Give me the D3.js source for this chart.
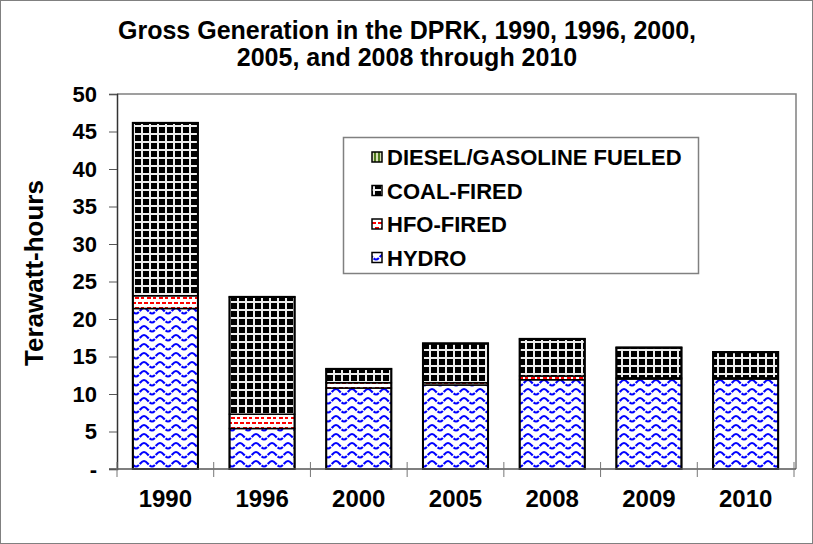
<!DOCTYPE html>
<html><head><meta charset="utf-8">
<script src="https://cdn.jsdelivr.net/npm/d3@7"></script>
<style>
html,body{margin:0;padding:0;background:#fff;}
svg{display:block;font-family:"Liberation Sans",Arial,sans-serif;font-weight:bold;}
</style></head>
<body><svg id="chart" width="813" height="544"></svg>
<script>
const categories = ['1990','1996','2000','2005','2008','2009','2010'];
const hydro  = [21.4, 5.4, 10.8, 11.2, 11.9, 12.0, 12.0];
const hfo    = [1.7, 1.9, 0.7, 0.3, 0.5, 0.15, 0.15];
const coal   = [23.0, 15.6, 1.8, 5.2, 4.9, 4.0, 3.4];
const diesel = [0.05, 0.05, 0.05, 0.05, 0.05, 0.05, 0.05];
const seriesNames = ['HYDRO','HFO-FIRED','COAL-FIRED','DIESEL/GASOLINE FUELED'];
const yTicks = [0,5,10,15,20,25,30,35,40,45,50];
const titleLines = ['Gross Generation in the DPRK, 1990, 1996, 2000,','2005, and 2008 through 2010'];
const yTitle = 'Terawatt-hours';

const svg = d3.select('#chart');
const W = 813, H = 544;
const plot = {left:117, right:794, top:94, bottom:469};

svg.append('rect').attr('x',0.5).attr('y',0.5).attr('width',W-1).attr('height',H-1)
  .attr('fill','#fff').attr('stroke','#808080').attr('stroke-width',1);

const defs = svg.append('defs');
const pH = defs.append('pattern').attr('id','p-hydro').attr('patternUnits','userSpaceOnUse')
  .attr('width',16).attr('height',9);
pH.append('rect').attr('width',16).attr('height',9).attr('fill','#fff');
pH.append('path').attr('d','M0,2 C3,2 5,7.5 8,7.5 C11,7.5 13,2 16,2')
  .attr('fill','none').attr('stroke','#0000ff').attr('stroke-width',2.2).attr('stroke-dasharray','6,1.2');

const pF = defs.append('pattern').attr('id','p-hfo').attr('patternUnits','userSpaceOnUse')
  .attr('width',12).attr('height',10);
pF.append('rect').attr('width',12).attr('height',10).attr('fill','#fff');
[[0,2],[6,2],[3,7],[9,7]].forEach(([x,y])=>{
  pF.append('rect').attr('x',x).attr('y',y).attr('width',4).attr('height',2).attr('fill','#ff0000');
});

const pC = defs.append('pattern').attr('id','p-coal').attr('patternUnits','userSpaceOnUse')
  .attr('width',8).attr('height',8);
pC.append('rect').attr('width',8).attr('height',8).attr('fill','#000');
pC.append('rect').attr('x',5).attr('y',0).attr('width',2).attr('height',8).attr('fill','#eeeeee');
pC.append('rect').attr('x',0).attr('y',5).attr('width',8).attr('height',2).attr('fill','#eeeeee');

const pD = defs.append('pattern').attr('id','p-diesel').attr('patternUnits','userSpaceOnUse')
  .attr('width',4).attr('height',4);
pD.append('rect').attr('width',4).attr('height',4).attr('fill','#d8e0b8');
pD.append('rect').attr('x',2).attr('width',2).attr('height',4).attr('fill','#4f7a1f');

const fills = ['url(#p-hydro)','url(#p-hfo)','url(#p-coal)','url(#p-diesel)'];

const x = d3.scaleBand().domain(categories).range([plot.left, plot.right])
  .paddingInner(0.327).paddingOuter(0.1635);
const y = d3.scaleLinear().domain([0,50]).range([plot.bottom, plot.top]);

svg.append('path')
  .attr('d',`M${plot.left},${plot.top}H${plot.right+2}V${plot.bottom}`)
  .attr('fill','none').attr('stroke','#808080').attr('stroke-width',1.5);

const rows = categories.map((c,i)=>({cat:c, HYDRO:hydro[i], 'HFO-FIRED':hfo[i], 'COAL-FIRED':coal[i], 'DIESEL/GASOLINE FUELED':diesel[i]}));
const stack = d3.stack().keys(seriesNames)(rows);

const g = svg.append('g');
stack.forEach((layer,k)=>{
  g.selectAll(null).data(layer).enter().append('rect')
    .attr('x',d=>x(d.data.cat))
    .attr('width',x.bandwidth())
    .attr('y',d=>y(d[1]))
    .attr('height',d=>Math.max(0,y(d[0])-y(d[1])))
    .attr('fill',fills[k])
    .attr('stroke','#000').attr('stroke-width',1.5);
});
g.selectAll(null).data(rows).enter().append('rect')
  .attr('x',d=>x(d.cat)).attr('width',x.bandwidth())
  .attr('y',(d,i)=>y(hydro[i]+hfo[i]+coal[i]+diesel[i]))
  .attr('height',(d,i)=>y(0)-y(hydro[i]+hfo[i]+coal[i]+diesel[i]))
  .attr('fill','none').attr('stroke','#000').attr('stroke-width',2);

const yAxis = d3.axisLeft(y).tickValues(yTicks).tickSize(8).tickPadding(12)
  .tickFormat(d=>d===0?'-':d);
const ya = svg.append('g').attr('transform',`translate(${plot.left},0)`).call(yAxis);
ya.select('.domain').attr('stroke','#333').attr('stroke-width',1.5);
ya.selectAll('.tick line').attr('stroke','#555');
ya.selectAll('.tick text').attr('font-size',22).attr('font-weight','bold')
  .attr('font-family','"Liberation Sans",Arial,sans-serif').attr('fill','#000');

svg.append('line').attr('x1',plot.left-8).attr('x2',plot.right+2)
  .attr('y1',plot.bottom).attr('y2',plot.bottom).attr('stroke','#555').attr('stroke-width',1.5);
const seps = categories.map((c,i)=>plot.left + i*x.step()).concat([plot.right]);
svg.selectAll(null).data(seps).enter().append('line')
  .attr('x1',d=>d).attr('x2',d=>d).attr('y1',plot.bottom-7).attr('y2',plot.bottom+8)
  .attr('stroke','#777').attr('stroke-width',1);
svg.selectAll(null).data(categories).enter().append('text')
  .attr('x',d=>x(d)+x.bandwidth()/2).attr('y',507)
  .attr('text-anchor','middle').attr('font-size',24).text(d=>d);

svg.append('text').attr('transform','translate(43,273) rotate(-90)')
  .attr('text-anchor','middle').attr('font-size',26).text(yTitle);

svg.selectAll(null).data(titleLines).enter().append('text')
  .attr('x',407).attr('y',(d,i)=>39+i*27).attr('text-anchor','middle')
  .attr('font-size',25).text(d=>d);

const lg = svg.append('g');
lg.append('rect').attr('x',343.5).attr('y',137.5).attr('width',355).attr('height',136)
  .attr('fill','#fff').attr('stroke','#808080').attr('stroke-width',1.5);
const legendOrder = [3,2,1,0];
legendOrder.forEach((k,j)=>{
  const cy = 157 + j*33.5;
  lg.append('rect').attr('x',372).attr('y',cy-5).attr('width',10).attr('height',10)
    .attr('fill',fills[k]).attr('stroke','#000').attr('stroke-width',1.5);
  lg.append('text').attr('x',387).attr('y',cy+8).attr('font-size',22).text(seriesNames[k]);
});
</script></body></html>
